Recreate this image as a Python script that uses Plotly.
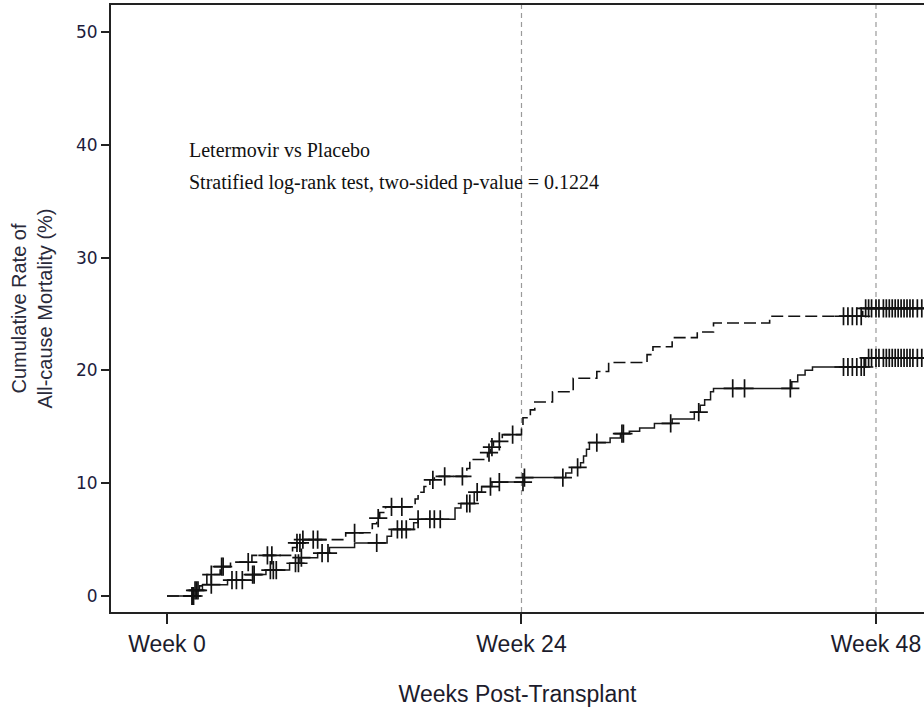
import numpy as np
import plotly.graph_objects as go

# ---------------- data ----------------
placebo_step_weeks = [1.9, 2.2, 2.7, 3.6, 4.3, 5.75, 8.5, 8.8, 9.2, 12.1, 13.9, 14.2, 14.4, 14.8,
                      16.8, 17.0, 17.4, 17.8, 18.1, 20.3, 20.5, 21.7, 21.9, 22.1, 22.7, 24.0,
                      24.1, 24.6, 24.9, 26.1, 27.5, 29.1, 29.9, 32.5, 32.9, 34.2, 35.9, 37.0,
                      40.8, 47.1]
placebo_step_pct = [0.5, 0.9, 1.9, 2.6, 3.0, 3.6, 4.3, 4.7, 5.0, 5.6, 6.4, 6.9, 7.4, 7.9,
                    8.6, 9.2, 9.7, 10.3, 10.6, 11.3, 12.1, 12.7, 13.2, 13.7, 14.3, 15.0,
                    15.8, 16.5, 17.2, 18.1, 19.3, 19.9, 20.7, 21.4, 22.1, 22.9, 23.4, 24.2,
                    24.8, 25.5]
placebo_censor_weeks = [1.7, 1.9, 2.1, 3.0, 3.7, 3.8, 5.5, 6.8, 7.1, 8.8, 9.0, 9.2, 9.9, 10.2,
                        12.7, 14.3, 15.2, 15.9, 18.0, 18.8, 20.0, 21.8, 22.0, 22.5, 23.4,
                        45.8, 46.1, 46.4, 46.7, 47.0, 47.3, 47.5, 47.7, 48.0, 48.2, 48.5, 48.7,
                        48.9, 49.1, 49.3, 49.5, 49.7, 49.9, 50.1, 50.3, 50.5, 50.8, 51.1]

letermovir_step_weeks = [2.0, 2.4, 4.1, 5.8, 6.7, 8.3, 9.0, 10.2, 11.0, 12.7, 14.9, 15.2, 16.7,
                         17.0, 19.5, 19.9, 20.8, 21.3, 22.0, 24.2, 27.0, 27.4, 28.0, 28.2, 28.4,
                         28.6, 30.0, 30.7, 31.3, 32.0, 33.0, 34.2, 35.7, 36.1, 36.4, 36.8, 37.0,
                         42.3, 42.7, 43.2, 43.7, 47.3]
letermovir_step_pct = [0.5, 1.0, 1.4, 1.9, 2.3, 2.9, 3.4, 3.8, 4.3, 4.7, 5.3, 5.9, 6.5,
                       6.8, 7.8, 8.2, 9.2, 9.7, 10.1, 10.5, 10.9, 11.4, 11.8, 12.4, 13.0,
                       13.6, 14.0, 14.4, 14.6, 14.9, 15.3, 15.7, 16.3, 16.9, 17.4, 18.1, 18.4,
                       19.0, 19.6, 20.0, 20.3, 21.1]
letermovir_censor_weeks = [1.7, 1.8, 2.0, 3.0, 4.4, 4.7, 5.1, 5.8, 5.9, 7.0, 7.2, 7.4, 8.7, 8.9,
                           9.1, 10.5, 10.9, 14.2, 15.6, 15.9, 16.2, 17.0, 17.8, 18.1, 18.5,
                           20.3, 20.5, 21.0, 21.9, 22.5, 24.1, 24.2, 26.8, 27.8, 29.1, 30.8,
                           30.9, 34.1, 36.0, 38.3, 39.1, 42.2,
                           45.8, 46.1, 46.4, 46.7, 47.0, 47.2, 47.5, 47.7, 48.0, 48.2, 48.5,
                           48.7, 48.9, 49.1, 49.3, 49.5, 49.7, 49.9, 50.1, 50.3, 50.5, 50.8, 51.1]

end_week = 51.3
x_tick_vals = [0, 24, 48]
x_tick_text = ["Week 0", "Week 24", "Week 48"]
y_tick_vals = [0, 10, 20, 30, 40, 50]
ref_lines_weeks = [24, 48]
note_lines = ["Letermovir vs Placebo", "Stratified log-rank test, two-sided p-value = 0.1224"]


def curve(weeks, pct):
    return [0] + list(weeks) + [end_week], [0] + list(pct) + [pct[-1]]


def level_at(times, weeks, pct):
    w = np.asarray(weeks)
    p = np.concatenate([[0.0], np.asarray(pct, dtype=float)])
    idx = np.searchsorted(w, np.asarray(times), side="right")
    return p[idx]


fig = go.Figure()

marker_style = dict(symbol="cross-thin", size=13, line=dict(width=1.7, color="#111"))

# Letermovir (solid)
lx, ly = curve(letermovir_step_weeks, letermovir_step_pct)
fig.add_trace(go.Scatter(x=lx, y=ly, mode="lines", line=dict(shape="hv", color="#1a1a1a", width=1.5),
                         name="Letermovir", showlegend=False, hoverinfo="skip"))
fig.add_trace(go.Scatter(x=letermovir_censor_weeks,
                         y=level_at(letermovir_censor_weeks, letermovir_step_weeks, letermovir_step_pct),
                         mode="markers", marker=marker_style, showlegend=False, hoverinfo="skip"))

# Placebo (dashed)
px_, py_ = curve(placebo_step_weeks, placebo_step_pct)
fig.add_trace(go.Scatter(x=px_, y=py_, mode="lines",
                         line=dict(shape="hv", color="#111", width=1.6, dash="12px,5px"),
                         name="Placebo", showlegend=False, hoverinfo="skip"))
fig.add_trace(go.Scatter(x=placebo_censor_weeks,
                         y=level_at(placebo_censor_weeks, placebo_step_weeks, placebo_step_pct),
                         mode="markers", marker=marker_style, showlegend=False, hoverinfo="skip"))

for w in ref_lines_weeks:
    fig.add_shape(type="line", x0=w, x1=w, y0=0, y1=1, xref="x", yref="paper",
                  line=dict(color="#9a9a9a", width=1.2, dash="5px,4px"), layer="below")

for i, t in enumerate(note_lines):
    fig.add_annotation(x=0.0935, y=0.782 - i * 0.053, xref="paper", yref="paper",
                       xanchor="left", yanchor="top", align="left", showarrow=False, text=t,
                       font=dict(family="Liberation Serif, Times New Roman, serif", size=20, color="#111"))

fig.update_layout(
    width=924, height=711,
    margin=dict(l=111, r=0, t=5, b=99),
    paper_bgcolor="white", plot_bgcolor="white",
    xaxis=dict(range=[-3.79, 51.25], tickvals=x_tick_vals, ticktext=x_tick_text,
               showgrid=False, zeroline=False, showline=True, mirror=True, automargin=False,
               linecolor="#222", linewidth=2, ticks="outside", ticklen=10, tickwidth=1.5,
               tickcolor="#222",
               tickfont=dict(family="Liberation Sans, Arial", size=23, color="#1c1c2c"),
               title=dict(text="Weeks Post-Transplant", standoff=30,
                          font=dict(family="Liberation Sans, Arial", size=23, color="#1c1c2c"))),
    yaxis=dict(range=[-1.42, 52.39], tickvals=y_tick_vals, automargin=False,
               showgrid=False, zeroline=False, showline=True, mirror=False,
               linecolor="#222", linewidth=2, ticks="outside", ticklen=8, tickwidth=1.5,
               tickcolor="#222",
               tickfont=dict(family="DejaVu Sans", size=17, color="#1c1c3c"),
               title=dict(text="Cumulative Rate of<br>All-cause Mortality (%)", standoff=18,
                          font=dict(family="Liberation Sans, Arial", size=20, color="#2a2a3a"))),
)

fig.write_html("out.html", config={"displayModeBar": False},
               post_script="document.body.style.margin='0';")
